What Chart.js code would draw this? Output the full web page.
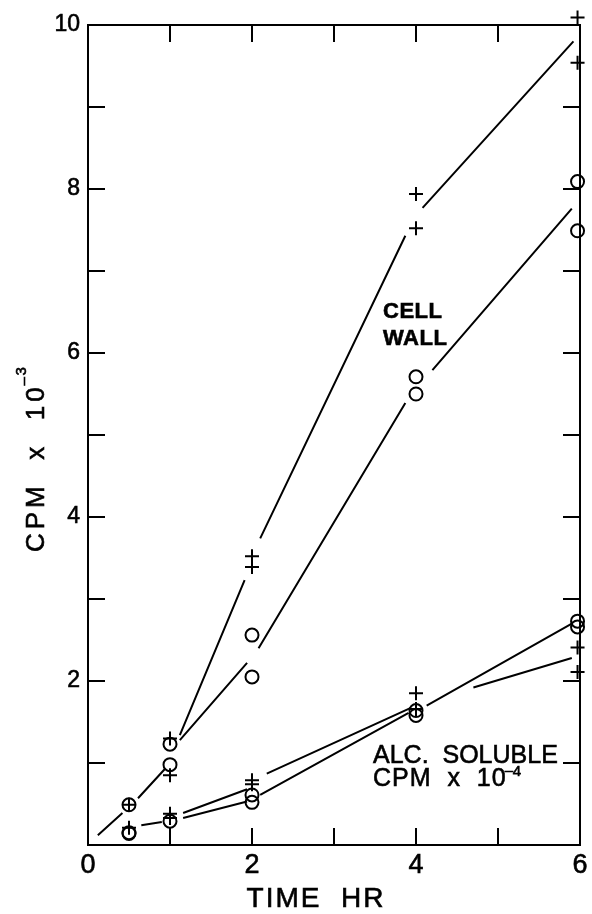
<!DOCTYPE html>
<html><head><meta charset="utf-8">
<script src="https://cdn.jsdelivr.net/npm/chart.js@4.4.1/dist/chart.umd.min.js"></script>
<style>html,body{margin:0;padding:0;background:#fff}#wrap{width:592px;height:914px;position:relative}</style>
</head><body><div id="wrap"><canvas id="c"></canvas></div>
<script>
const FONT = '"Liberation Sans", Arial, sans-serif';

// axis ranges and tick labels
const xRange = [0, 6];
const yRange = [0, 10];
const xTickLabels = ['0', '2', '4', '6'];
const yTickLabels = ['2', '4', '6', '8', '10'];

// CELL WALL (CPM x 10^-3)
const wallPlus = [{x:0.5,y:0.49},{x:1,y:1.30},{x:1,y:0.85},{x:2,y:3.52},{x:2,y:3.39},{x:4,y:7.94},{x:4,y:7.52},{x:5.97,y:10.09},{x:5.97,y:9.54}];
const wallCircle = [{x:0.5,y:0.49},{x:1,y:1.23},{x:1,y:0.98},{x:2,y:2.56},{x:2,y:2.05},{x:4,y:5.71},{x:4,y:5.50},{x:5.97,y:8.09},{x:5.97,y:7.49}];
// ALC. SOLUBLE (CPM x 10^-4)
const alcPlus = [{x:0.5,y:0.21},{x:1,y:0.38},{x:1,y:0.33},{x:2,y:0.79},{x:2,y:0.74},{x:4,y:1.85},{x:4,y:1.66},{x:5.97,y:2.41},{x:5.97,y:2.11}];
const alcCircle = [{x:0.5,y:0.15},{x:0.5,y:0.14},{x:1,y:0.29},{x:2,y:0.61},{x:2,y:0.52},{x:4,y:1.64},{x:4,y:1.58},{x:5.97,y:2.73},{x:5.97,y:2.66}];

// hand-drawn fit lines (y:null = break in the line)
const wallLowFit = [{x:0.12,y:0.12},{x:0.42,y:0.39},{x:0.5,y:null},{x:0.61,y:0.57},{x:0.94,y:0.93}];
const wallPlusFit = [{x:1.12,y:1.34},{x:1.91,y:3.23},{x:2,y:null},{x:2.10,y:3.74},{x:3.87,y:7.43},{x:4,y:null},{x:4.08,y:7.77},{x:5.92,y:9.80}];
const wallCircleFit = [{x:1.12,y:1.28},{x:1.94,y:2.22},{x:2,y:null},{x:2.08,y:2.40},{x:3.87,y:5.39},{x:4,y:null},{x:4.20,y:5.79},{x:5.90,y:7.76}];
const alcPlusFit = [{x:0.65,y:0.24},{x:0.90,y:0.28},{x:1,y:null},{x:1.16,y:0.39},{x:1.94,y:0.68},{x:2,y:null},{x:2.18,y:0.87},{x:3.93,y:1.67},{x:4.3,y:null},{x:4.70,y:1.92},{x:5.90,y:2.28}];
const alcCircleFit = [{x:1.16,y:0.33},{x:1.94,y:0.53},{x:2,y:null},{x:2.10,y:0.61},{x:3.91,y:1.61},{x:4,y:null},{x:4.13,y:1.70},{x:5.90,y:2.70}];

function pts(data, style, r) {
  return {type:'scatter', data, showLine:false, pointStyle:style, pointRadius:r, pointHoverRadius:r,
    borderColor:'#000', backgroundColor:'rgba(0,0,0,0)', pointBorderWidth:2, borderWidth:2, clip:false};
}
function fit(data) {
  return {type:'line', data, showLine:true, spanGaps:false, pointRadius:0, borderColor:'#000', borderWidth:2, tension:0, fill:false, clip:false};
}

function drawText(ctx, s, x, y, font, spacing, align) {
  ctx.font = font;
  ctx.letterSpacing = (spacing||0) + 'px';
  ctx.textAlign = align || 'left';
  ctx.fillText(s, x, y);
  ctx.strokeText(s, x, y);
  return ctx.measureText(s).width;
}

const framePlugin = {
  id: 'frame',
  beforeDatasetsDraw(chart) {
    const {ctx, chartArea: a, scales: {x, y}} = chart;
    ctx.save();
    ctx.strokeStyle = '#000'; ctx.lineWidth = 2; ctx.lineCap = 'square';
    ctx.strokeRect(a.left, a.top, a.right - a.left, a.bottom - a.top);
    const L = 16;
    ctx.beginPath();
    x.ticks.forEach(t => {
      if (t.value <= xRange[0] || t.value >= xRange[1]) return;
      const px = x.getPixelForValue(t.value);
      ctx.moveTo(px, a.bottom); ctx.lineTo(px, a.bottom - L);
      ctx.moveTo(px, a.top); ctx.lineTo(px, a.top + L);
    });
    y.ticks.forEach(t => {
      if (t.value <= yRange[0] || t.value >= yRange[1]) return;
      const py = y.getPixelForValue(t.value);
      ctx.moveTo(a.left, py); ctx.lineTo(a.left + L, py);
      ctx.moveTo(a.right, py); ctx.lineTo(a.right - L, py);
    });
    ctx.stroke();
    ctx.restore();
  },
  afterDraw(chart) {
    const {ctx} = chart;
    ctx.save();
    ctx.fillStyle = '#000';
    ctx.strokeStyle = '#000';
    ctx.lineWidth = 0.6;
    ctx.textBaseline = 'alphabetic';
    // x axis title
    drawText(ctx, 'TIME  HR', 316, 907, '28px ' + FONT, 2, 'center');
    // y axis title (rotated)
    ctx.save();
    ctx.translate(44, 552);
    ctx.rotate(-Math.PI / 2);
    const w = drawText(ctx, 'CPM  x  10', 0, 0, '26px ' + FONT, 4, 'left');
    drawText(ctx, '\u2013', w - 2, -16, '15px ' + FONT, 0, 'left');
    drawText(ctx, '3', w + 8, -18, '15px ' + FONT, 0, 'left');
    ctx.restore();
    // annotations
    drawText(ctx, 'CELL', 383, 318, 'bold 22px ' + FONT, 0.5);
    drawText(ctx, 'WALL', 383, 345, 'bold 22px ' + FONT, 0.5);
    drawText(ctx, 'ALC.  SOLUBLE', 373, 763, '25px ' + FONT, 0);
    const w2 = drawText(ctx, 'CPM  x  10', 373, 786, '25px ' + FONT, 1);
    drawText(ctx, '\u2013', 373 + w2 - 2, 775, '15px ' + FONT, 0);
    drawText(ctx, '4', 373 + w2 + 6, 776, '15px ' + FONT, 0);
    ctx.restore();
  }
};

new Chart(document.getElementById('c'), {
  type: 'scatter',
  data: {
    datasets: [
      fit(wallLowFit), fit(wallPlusFit), fit(wallCircleFit), fit(alcPlusFit), fit(alcCircleFit),
      pts(wallPlus, 'cross', 7), pts(wallCircle, 'circle', 6.5),
      pts(alcPlus, 'cross', 7), pts(alcCircle, 'circle', 6.5)
    ]
  },
  options: {
    responsive: true, maintainAspectRatio: false, animation: false,
    layout: {padding: {left: 30, right: 12, top: 25, bottom: 0}},
    plugins: {legend: {display: false}, tooltip: {enabled: false}},
    events: [],
    scales: {
      x: {
        type: 'linear', min: xRange[0], max: xRange[1],
        afterFit: s => { s.height = 69; },
        grid: {display: false, drawTicks: false}, border: {display: false},
        ticks: {stepSize: 1, autoSkip: false, maxRotation: 0, padding: 4, color: '#000',
          textStrokeColor: '#000', textStrokeWidth: 0.6,
          font: {family: FONT, size: 27},
          callback: v => xTickLabels.includes(String(v)) ? String(v) : ''}
      },
      y: {
        type: 'linear', min: yRange[0], max: yRange[1],
        afterFit: s => { s.width = 58; },
        grid: {display: false, drawTicks: false}, border: {display: false},
        ticks: {stepSize: 1, autoSkip: false, padding: 8, color: '#000',
          textStrokeColor: '#000', textStrokeWidth: 0.6,
          font: {family: FONT, size: 23},
          callback: v => yTickLabels.includes(String(v)) ? String(v) : ''}
      }
    }
  },
  plugins: [framePlugin]
});
</script>
</body></html>
